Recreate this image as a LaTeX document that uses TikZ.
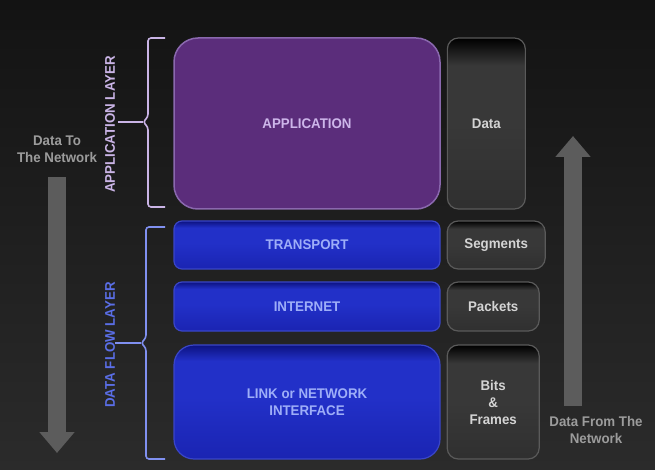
\documentclass[tikz,border=0pt]{standalone}
\usepackage{fontspec}
\setmainfont{Liberation Sans}[FakeStretch=0.95]
\usetikzlibrary{arrows.meta,positioning}

\definecolor{bgtop}{HTML}{131313}
\definecolor{bgbot}{HTML}{2B2B2B}
\definecolor{appfill}{HTML}{5B2D7B}
\definecolor{appedge}{HTML}{8A68AE}
\definecolor{apptext}{HTML}{CDB6EA}
\definecolor{flowtop}{HTML}{0C1280}
\definecolor{flowmid}{HTML}{2230C8}
\definecolor{flowbot}{HTML}{1A24B2}
\definecolor{flowedge}{HTML}{3A46C8}
\definecolor{flowtext}{HTML}{9EAEF8}
\definecolor{pdumid}{HTML}{383838}
\definecolor{pduedge}{HTML}{5A5A5A}
\definecolor{pdutext}{HTML}{D4D4D4}
\definecolor{arrowgray}{HTML}{5C5C5C}
\definecolor{arrowtext}{HTML}{9C9C9C}
\definecolor{appbracecol}{HTML}{CAB4E6}
\definecolor{flowbracecol}{HTML}{8090F0}
\definecolor{flowlbl}{HTML}{5A6EE6}

% the box is mapped onto 25bp..75bp of these shadings
\pgfdeclareverticalshading{pdushade}{100bp}{color(0bp)=(pdumid!85!black); color(25bp)=(pdumid!85!black); color(50bp)=(pdumid); color(67bp)=(pdumid); color(75bp)=(black); color(100bp)=(black)}
\pgfdeclareverticalshading{flowshade}{100bp}{color(0bp)=(flowbot); color(25bp)=(flowbot); color(52bp)=(flowmid); color(68bp)=(flowmid); color(75bp)=(flowtop); color(100bp)=(flowtop)}

\tikzset{
  txt/.style={font=\fontsize{14}{17}\selectfont\bfseries, align=center},
  applayer/.style={txt, draw=appedge, line width=1.5pt, fill=appfill, text=apptext,
    rounded corners=24pt, minimum width=266pt},
  flowlayer/.style={txt, draw=flowedge, line width=1.2pt, shade, shading=flowshade, text=flowtext,
    minimum width=266pt},
  pdubox/.style={txt, draw=pduedge, line width=1.2pt, shade, shading=pdushade, text=pdutext,
    rounded corners=11pt},
  brace/.style={line width=1.6pt, rounded corners=3pt},
  flowarrow/.style={draw=arrowgray, line width=18pt, -{Triangle[length=21pt,width=34pt]}},
}

\begin{document}
\begin{tikzpicture}[x=1pt,y=-1pt]
\shade[top color=bgtop, bottom color=bgbot] (0,0) rectangle (655,470);
\useasboundingbox (0,0) rectangle (655,470);

% layers
\node[applayer, minimum height=171pt] (app) at (307,123.5) {APPLICATION};
\node[flowlayer, rounded corners=8pt, minimum height=48pt] (trans) at (307,245) {TRANSPORT};
\node[flowlayer, rounded corners=8pt, minimum height=49pt] (inet) at (307,306.5) {INTERNET};
\node[flowlayer, rounded corners=20pt, minimum height=114pt] (link) at (307,402) {LINK or NETWORK\\INTERFACE};

% data units
\node[pdubox, right=6pt of app, minimum width=78pt, minimum height=171pt] (data) {Data};
\node[pdubox, right=6pt of trans, minimum width=98pt, minimum height=48pt] (seg) {Segments};
\node[pdubox, right=6pt of inet, minimum width=92pt, minimum height=49pt] (pkt) {Packets};
\node[pdubox, right=6pt of link, minimum width=92pt, minimum height=114pt] (bits) {Bits\\\&\\Frames};

% braces
\draw[brace, appbracecol] (165,38) -- (148,38) -- (148,117) -- (143,122) -- (148,127) -- (148,207) -- (165,207);
\draw[brace, appbracecol] (143,122) -- (118,122);
\draw[brace, flowbracecol] (165,227) -- (146,227) -- (146,338) -- (141,343) -- (146,348) -- (146,459) -- (165,459);
\draw[brace, flowbracecol] (141,343) -- (115,343);
\node[txt, rotate=90, text=appbracecol] (applbl) at (110,124.5) {APPLICATION LAYER};
\node[txt, rotate=90, text=flowlbl] (flowlbl) at (110,345) {DATA FLOW LAYER};

% direction of flow
\node[txt, text=arrowtext, inner sep=0pt] (tonet) at (57,149.5) {Data To\\The Network};
\node[txt, text=arrowtext, inner sep=0pt] (fromnet) at (596,429.5) {Data From The\\Network};
\coordinate (tonetend) at (57,453);
\coordinate (fromnetend) at (573,136);
\draw[flowarrow] ([yshift=-14pt]tonetend |- tonet.south) -- (tonetend);
\draw[flowarrow] ([yshift=10pt]fromnetend |- fromnet.north) -- (fromnetend);
\end{tikzpicture}
\end{document}
